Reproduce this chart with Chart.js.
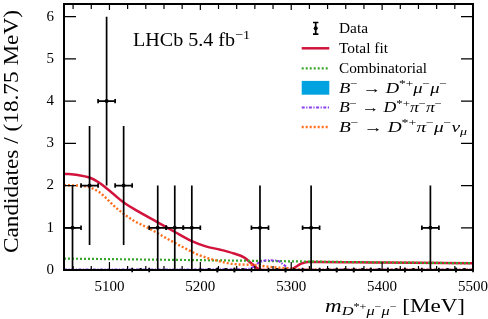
<!DOCTYPE html>
<html>
<head>
<meta charset="utf-8">
<script src="https://cdn.jsdelivr.net/npm/chart.js@4/dist/chart.umd.min.js"></script>
<style>
  html, body { margin: 0; padding: 0; background: #fff; }
  #c { display: block; }
</style>
</head>
<body>
<canvas id="c" width="488" height="319"></canvas>
<script>
// binned data, 18.75 MeV bins from 5050 to 5500
const massBins = [5059.375, 5078.125, 5096.875, 5115.625, 5134.375, 5153.125, 5171.875, 5190.625,
                  5209.375, 5228.125, 5246.875, 5265.625, 5284.375, 5303.125, 5321.875, 5340.625,
                  5359.375, 5378.125, 5396.875, 5415.625, 5434.375, 5453.125, 5471.875, 5490.625];
const counts   = [1, 2, 4, 2, 0, 1, 1, 1, 0, 0, 0, 1, 0, 0, 1, 0, 0, 0, 0, 0, 0, 1, 0, 0];
const errors   = [1, 1.41, 2, 1.41, 0, 1, 1, 1, 0, 0, 0, 1, 0, 0, 1, 0, 0, 0, 0, 0, 0, 1, 0, 0];
const binHalfWidth = 9.375;

// fit components
const totalMass = [5050, 5065, 5078, 5088, 5097, 5106, 5115, 5133, 5153, 5172, 5190, 5206, 5222, 5237,
                   5248, 5257, 5263, 5270, 5298, 5304, 5311, 5318, 5330, 5400, 5500];
const totalFit  = [2.28, 2.25, 2.19, 2.08, 1.93, 1.77, 1.61, 1.37, 1.13, 0.90, 0.69, 0.56, 0.48, 0.39,
                   0.30, 0.14, 0.04, 0.0, 0.0, 0.06, 0.15, 0.19, 0.19, 0.175, 0.16];

const combMass = [5050, 5150, 5250, 5320, 5400, 5500];
const combinatorial = [0.27, 0.245, 0.22, 0.20, 0.18, 0.16];

const signalMass = [5050, 5500];
const signal = [0, 0];

const pipiMass = [5050, 5250, 5258, 5264, 5274, 5285, 5292, 5300, 5500];
const pipi = [0.01, 0.02, 0.07, 0.17, 0.23, 0.22, 0.12, 0.01, 0.01];

const partMass = [5050, 5074, 5089, 5107, 5125, 5144, 5162, 5180, 5199, 5217, 5237, 5259, 5274, 5296, 5311, 5330, 5500];
const partReco = [2.01, 1.98, 1.84, 1.48, 1.19, 0.98, 0.76, 0.55, 0.35, 0.23, 0.14, 0.12, 0.08, 0.04, 0.02, 0.01, 0.01];

const xTickValues = [5100, 5200, 5300, 5400, 5500];
const yTickValues = [0, 1, 2, 3, 4, 5, 6];

const FONT = '"Liberation Serif", "DejaVu Serif", serif';
const COLORS = {
  total: '#d2143c',
  comb: '#35a52b',
  signal: '#00a3e0',
  pipi: '#8a3cef',
  part: '#ff6e1a'
};

const toXY = (xs, ys) => xs.map((x, i) => ({ x: x, y: ys[i] }));

// draw a run of text pieces: [text, italic, size, dy], stretched sideways to a width (CM fonts run wide)
function drawPieces(ctx, x, y, pieces, width) {
  let w = 0;
  pieces.forEach(([t, it, size]) => {
    ctx.font = (it ? 'italic ' : '') + size + 'px ' + FONT;
    w += ctx.measureText(t).width;
  });
  const k = width ? width / w : 1;
  ctx.save();
  ctx.translate(x, y);
  ctx.scale(k, 1);
  let cx = 0;
  pieces.forEach(([t, it, size, dy]) => {
    ctx.font = (it ? 'italic ' : '') + size + 'px ' + FONT;
    ctx.fillText(t, cx, dy || 0);
    cx += ctx.measureText(t).width;
  });
  ctx.restore();
}

function decayPieces(final, s) {
  const sup = s * 0.72, up = -s * 0.4;
  const head = [['B', true, s], ['−', false, sup, up], [' → ', false, s], ['D', true, s], ['*+', false, sup, up]];
  return head.concat(final(s, sup, up));
}

const LS = 14.5;
const legendRows = [
  { label: [['Data', false, LS]], w: 29, kind: 'data' },
  { label: [['Total fit', false, LS]], w: 49, kind: 'line', color: COLORS.total, dash: [], width: 2.5 },
  { label: [['Combinatorial', false, LS]], w: 88, kind: 'line', color: COLORS.comb, dash: [2, 2], width: 2.2 },
  { label: decayPieces((s, sup, up) => [['μ', true, s], ['−', false, sup, up], ['μ', true, s], ['−', false, sup, up]], LS),
    w: 108, kind: 'box', color: COLORS.signal },
  { label: decayPieces((s, sup, up) => [['π', true, s], ['−', false, sup, up], ['π', true, s], ['−', false, sup, up]], LS),
    w: 103, kind: 'line', color: COLORS.pipi, dash: [3, 1.5, 1.2, 1.5], width: 2 },
  { label: decayPieces((s, sup, up) => [['π', true, s], ['−', false, sup, up], ['μ', true, s], ['−', false, sup, up],
                                        ['ν', true, s], ['μ', true, s * 0.72, 3]], LS),
    w: 128, kind: 'line', color: COLORS.part, dash: [2, 2], width: 2.4 }
];
const legendRowY = [28.3, 48.3, 68.3, 88.3, 107.5, 127];

const decorPlugin = {
  id: 'decor',
  afterDatasetsDraw(chart) {
    const { ctx, scales: { x, y } } = chart;
    ctx.save();
    ctx.strokeStyle = '#000';
    ctx.lineWidth = 1.7;
    massBins.forEach((m, i) => {
      const py = y.getPixelForValue(counts[i]);
      const xl = x.getPixelForValue(m - binHalfWidth);
      const xr = x.getPixelForValue(m + binHalfWidth);
      ctx.beginPath();
      ctx.moveTo(xl, py); ctx.lineTo(xr, py);
      ctx.moveTo(xl, py - 2.2); ctx.lineTo(xl, py + 2.2);
      ctx.moveTo(xr, py - 2.2); ctx.lineTo(xr, py + 2.2);
      if (errors[i] > 0) {
        const px = x.getPixelForValue(m);
        ctx.moveTo(px, y.getPixelForValue(counts[i] - errors[i]));
        ctx.lineTo(px, y.getPixelForValue(counts[i] + errors[i]));
      }
      ctx.stroke();
    });
    ctx.restore();
  },
  afterDraw(chart) {
    const { ctx, chartArea: a, scales: { x, y } } = chart;
    ctx.save();
    // frame
    ctx.strokeStyle = '#000';
    ctx.lineWidth = 2;
    ctx.strokeRect(a.left, a.top, a.right - a.left, a.bottom - a.top);
    ctx.lineWidth = 1.2;
    ctx.beginPath();
    yTickValues.forEach(v => {
      const py = y.getPixelForValue(v);
      ctx.moveTo(a.left, py); ctx.lineTo(a.left + 12, py);
      ctx.moveTo(a.right, py); ctx.lineTo(a.right - 12, py);
    });
    for (let v = 5060; v < 5500; v += 20) {
      const px = x.getPixelForValue(v);
      const major = v % 100 === 0;
      ctx.moveTo(px, a.bottom); ctx.lineTo(px, a.bottom - (major ? 8 : 4));
      ctx.moveTo(px, a.top); ctx.lineTo(px, a.top + (major ? 6 : 5));
    }
    ctx.stroke();

    ctx.fillStyle = '#000';
    ctx.textBaseline = 'alphabetic';
    ctx.textAlign = 'left';

    // y title, reads bottom to top from y=253 up to y=10
    ctx.save();
    ctx.translate(18, 253);
    ctx.rotate(-Math.PI / 2);
    drawPieces(ctx, 0, 0, [['Candidates / (18.75 MeV)', false, 21]], 243);
    ctx.restore();

    // x title
    const sb = 13.5, ss = 10;
    drawPieces(ctx, 325, 311.5, [
      ['m', true, 19], ['D', true, sb, 3.5], ['*+', false, ss, -2], ['μ', true, sb, 3.5], ['−', false, ss, -2],
      ['μ', true, sb, 3.5], ['−', false, ss, -2], [' [MeV]', false, 19]
    ], 140);

    // experiment label
    drawPieces(ctx, 133, 46, [['LHCb 5.4 fb', false, 18.5], ['−1', false, 13, -7]], 117);

    // legend
    legendRows.forEach((row, i) => {
      const cy = legendRowY[i];
      ctx.save();
      if (row.kind === 'data') {
        ctx.strokeStyle = '#000';
        ctx.lineWidth = 1.7;
        ctx.beginPath();
        ctx.moveTo(315.7, cy - 5.8); ctx.lineTo(315.7, cy + 5.8);
        ctx.moveTo(313, cy - 5.8); ctx.lineTo(318.4, cy - 5.8);
        ctx.moveTo(313, cy + 5.8); ctx.lineTo(318.4, cy + 5.8);
        ctx.stroke();
        ctx.beginPath();
        ctx.arc(315.7, cy, 2, 0, Math.PI * 2);
        ctx.fill();
      } else if (row.kind === 'box') {
        ctx.fillStyle = row.color;
        ctx.fillRect(301.7, cy - 7.4, 27.6, 13.8);
      } else {
        ctx.strokeStyle = row.color;
        ctx.lineWidth = row.width;
        ctx.setLineDash(row.dash);
        ctx.beginPath();
        ctx.moveTo(301.7, cy); ctx.lineTo(329.3, cy);
        ctx.stroke();
      }
      ctx.restore();
      drawPieces(ctx, 339, cy + 4.8, row.label, row.w);
    });
    ctx.restore();
  }
};

const curve = (label, xs, ys, color, dash, width, order, extra) => Object.assign({
  label: label,
  data: toXY(xs, ys),
  borderColor: color,
  borderWidth: width,
  borderDash: dash,
  pointRadius: 0,
  cubicInterpolationMode: 'monotone',
  fill: false,
  order: order
}, extra || {});

new Chart(document.getElementById('c'), {
  type: 'line',
  data: {
    datasets: [
      {
        label: 'Data',
        data: toXY(massBins, counts),
        showLine: false,
        pointRadius: 2,
        pointBackgroundColor: '#000',
        pointBorderColor: '#000',
        pointBorderWidth: 0,
        order: 0
      },
      curve('Total fit', totalMass, totalFit, COLORS.total, [], 2.5, 5),
      curve('Combinatorial', combMass, combinatorial, COLORS.comb, [2, 2], 2.2, 4),
      curve('B- -> D*+ mu- mu-', signalMass, signal, COLORS.signal, [], 0, 6,
            { fill: 'origin', backgroundColor: COLORS.signal }),
      curve('B- -> D*+ pi- pi-', pipiMass, pipi, COLORS.pipi, [3, 1.5, 1.2, 1.5], 2, 3),
      curve('B- -> D*+ pi- mu- nu', partMass, partReco, COLORS.part, [2, 2], 2.4, 2)
    ]
  },
  options: {
    responsive: false,
    devicePixelRatio: 1,
    animation: false,
    layout: { padding: { top: 1, right: 15, left: 0, bottom: 0 } },
    plugins: { legend: { display: false }, tooltip: { enabled: false } },
    scales: {
      x: {
        type: 'linear',
        min: 5050,
        max: 5500,
        grid: { display: false, drawTicks: false },
        border: { display: false },
        afterBuildTicks: s => { s.ticks = xTickValues.map(v => ({ value: v })); },
        afterFit: s => { s.height = 49; s.paddingLeft = 0; s.paddingRight = 0; },
        ticks: { color: '#000', font: { family: FONT, size: 15 }, padding: 8, maxRotation: 0, autoSkip: false,
                 callback: v => String(v) }
      },
      y: {
        min: 0,
        max: 6.3,
        grid: { display: false, drawTicks: false },
        border: { display: false },
        afterBuildTicks: s => { s.ticks = yTickValues.map(v => ({ value: v })); },
        afterFit: s => { s.width = 64; s.paddingTop = 0; s.paddingBottom = 0; },
        ticks: { color: '#000', font: { family: FONT, size: 15 }, padding: 10 }
      }
    }
  },
  plugins: [decorPlugin]
});
</script>
</body>
</html>
